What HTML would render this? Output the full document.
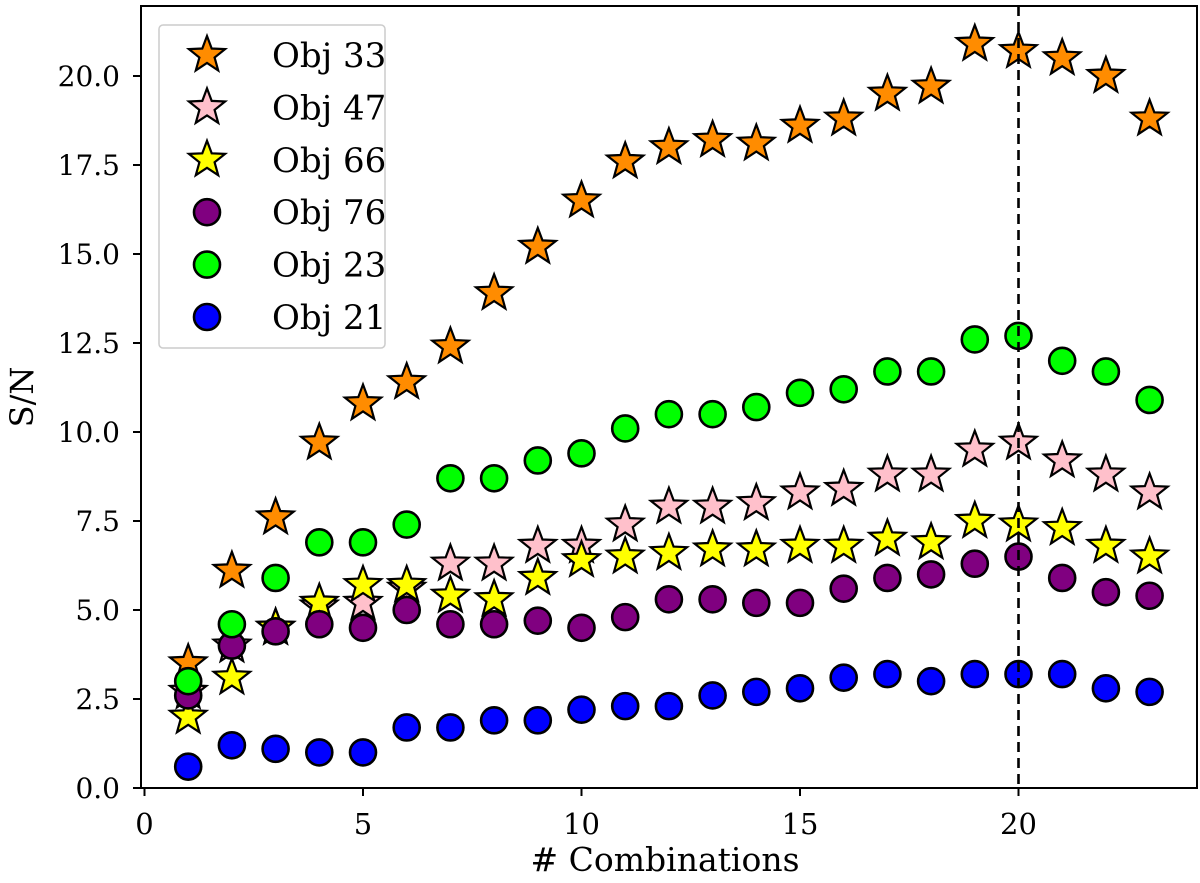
<!DOCTYPE html>
<html><head><meta charset="utf-8"><style>
body{margin:0;background:#fff}
svg text{font-family:"DejaVu Serif","Liberation Serif",serif;fill:#000}
</style></head><body>
<svg id="c" width="1200" height="878" viewBox="0 0 1200 878" xmlns="http://www.w3.org/2000/svg"></svg>
<script>
const combos=[1,2,3,4,5,6,7,8,9,10,11,12,13,14,15,16,17,18,19,20,21,22,23];
const obj33=[3.5,6.1,7.6,9.7,10.8,11.4,12.4,13.9,15.2,16.5,17.6,18.0,18.2,18.1,18.6,18.8,19.5,19.7,20.9,20.7,20.5,20.0,18.8];
const obj47=[2.7,4.0,4.5,5.1,5.2,5.6,6.3,6.3,6.8,6.8,7.4,7.9,7.9,8.0,8.3,8.4,8.8,8.8,9.5,9.7,9.2,8.8,8.3];
const obj66=[2.0,3.1,4.5,5.2,5.7,5.7,5.4,5.3,5.9,6.4,6.5,6.6,6.7,6.7,6.8,6.8,7.0,6.9,7.5,7.4,7.3,6.8,6.5];
const obj76=[2.6,4.0,4.4,4.6,4.5,5.0,4.6,4.6,4.7,4.5,4.8,5.3,5.3,5.2,5.2,5.6,5.9,6.0,6.3,6.5,5.9,5.5,5.4];
const obj23=[3.0,4.6,5.9,6.9,6.9,7.4,8.7,8.7,9.2,9.4,10.1,10.5,10.5,10.7,11.1,11.2,11.7,11.7,12.6,12.7,12.0,11.7,10.9];
const obj21=[0.6,1.2,1.1,1.0,1.0,1.7,1.7,1.9,1.9,2.2,2.3,2.3,2.6,2.7,2.8,3.1,3.2,3.0,3.2,3.2,3.2,2.8,2.7];
const seriesNames=["Obj 33","Obj 47","Obj 66","Obj 76","Obj 23","Obj 21"];
const xTicks=[0,5,10,15,20];
const yTicks=[0,2.5,5,7.5,10,12.5,15,17.5,20];
const vline=20;

const NS="http://www.w3.org/2000/svg";
const svg=document.getElementById('c');
const X=v=>144.5+v*43.7;
const Y=v=>788-v*35.6;
function el(t,a,p){const e=document.createElementNS(NS,t);for(const k in a)e.setAttribute(k,a[k]);(p||svg).appendChild(e);return e;}
function starPts(cx,cy,R){const r=R*0.42;let p=[];for(let i=0;i<10;i++){const a=-Math.PI/2+i*Math.PI/5;const rr=i%2?r:R;p.push((cx+rr*Math.cos(a)).toFixed(1)+','+(cy+rr*Math.sin(a)).toFixed(1));}return p.join(' ');}
function marker(kind,color,cx,cy,g){
  if(kind==='star') return el('polygon',{points:starPts(cx,cy,19),fill:color,stroke:'#000','stroke-width':2.2,'stroke-linejoin':'miter'},g);
  return el('circle',{cx:cx,cy:cy,r:13,fill:color,stroke:'#000','stroke-width':2.6},g);
}
const frame=el('rect',{x:141,y:6,width:1056,height:782,fill:'none',stroke:'#000','stroke-width':2});


xTicks.forEach(t=>{
  const l=el('line',{x1:X(t),x2:X(t),y1:788,y2:796,stroke:'#000','stroke-width':2});
  
  
  const tx=el('text',{x:X(t),y:834,'font-size':29,'text-anchor':'middle'});tx.textContent=t;
  
  
});
yTicks.forEach(t=>{
  const l=el('line',{x1:133,x2:141,y1:Y(t),y2:Y(t),stroke:'#000','stroke-width':2});
  
  
  const tx=el('text',{x:120,y:Y(t)+10,'font-size':28,'text-anchor':'end'});tx.textContent=t.toFixed(1);
  
  
});
const xl=el('text',{x:665,y:871,'font-size':33,'text-anchor':'middle'});xl.textContent='# Combinations';


const yl=el('text',{x:0,y:0,'font-size':32,'text-anchor':'middle',transform:'translate(33,397) rotate(-90)'});yl.textContent='S/N';



const series=[[obj33,'star','#ff8c00'],[obj47,'star','#ffc0cb'],[obj66,'star','#ffff00'],[obj76,'circle','#800080'],[obj23,'circle','#00ff00'],[obj21,'circle','#0000ff']];
series.forEach((s,i)=>{
  const g=el('g',{});
  
  
  s[0].forEach((v,j)=>{
    const m=marker(s[1],s[2],X(combos[j]),Y(v),g);
    
    
  });
});
const vl=el('line',{x1:X(vline),x2:X(vline),y1:6,y2:788,stroke:'#000','stroke-width':2.6,'stroke-dasharray':'10,6'});



const lg=el('g',{});


el('rect',{x:159,y:25,width:226,height:323,rx:4,fill:'#fff','fill-opacity':0.8,stroke:'#ccc','stroke-width':1.5},lg);
series.forEach((s,i)=>{
  const cy=55+i*52.4;
  const e=el('g',{},lg);
  
  
  marker(s[1],s[2],207,cy,e);
  const t=el('text',{x:272,y:cy+12,'font-size':34},e);t.textContent=seriesNames[i];
});
</script>
</body></html>
